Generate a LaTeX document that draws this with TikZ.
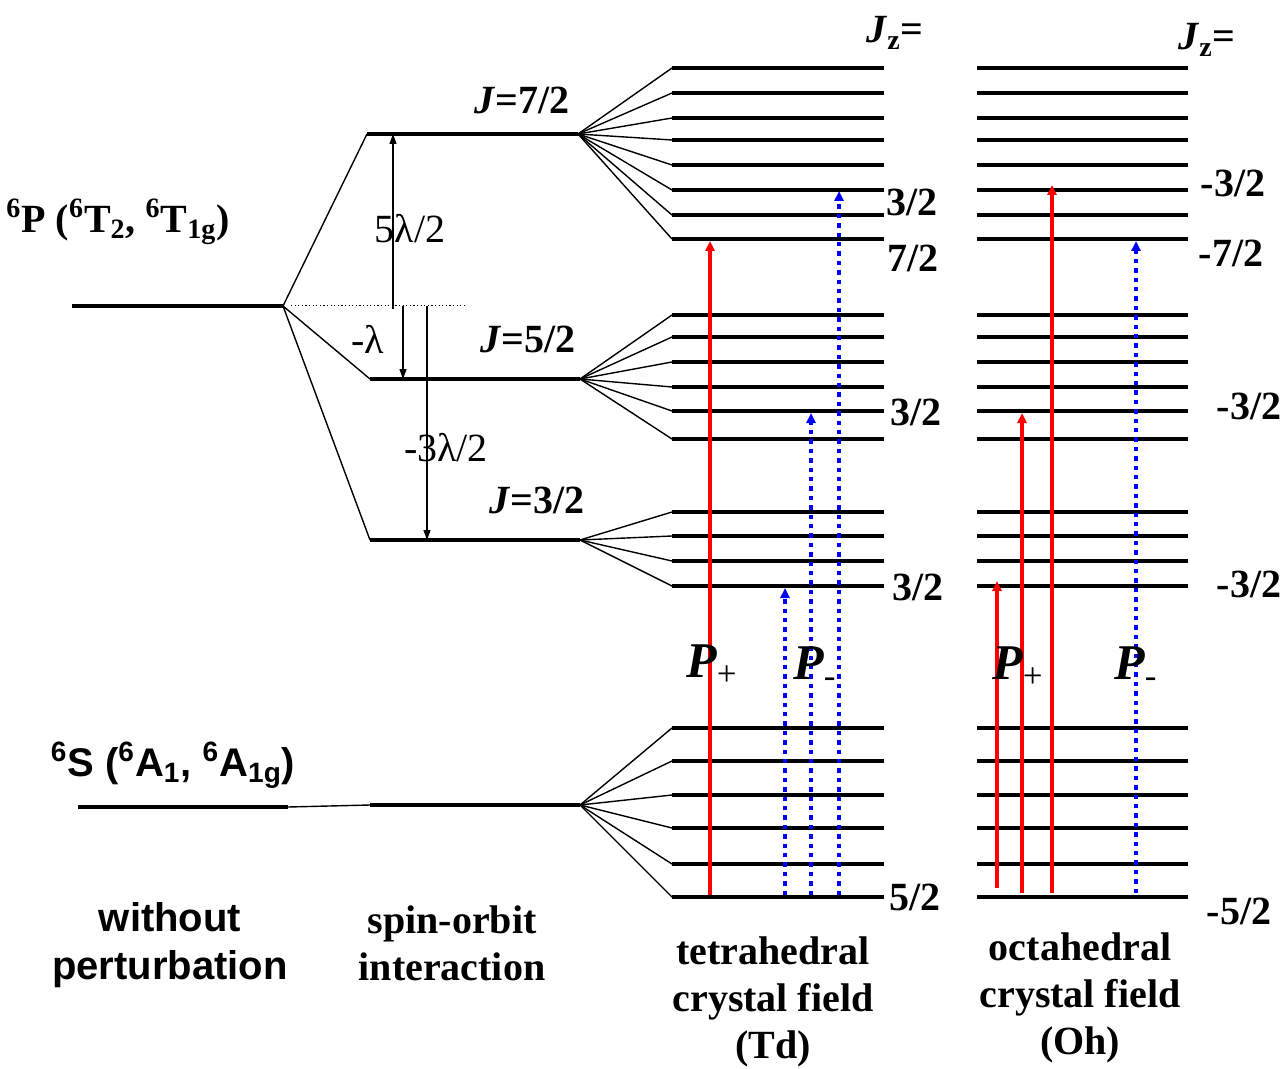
\documentclass[tikz,border=0pt]{standalone}
\usepackage{fontspec}
\setmainfont{Liberation Serif}
\setsansfont{Liberation Sans}
\usetikzlibrary{arrows.meta}
\begin{document}
\begin{tikzpicture}[x=0.5pt,y=-0.5pt,
  level/.style={line width=2.2pt},
  fan/.style={line width=0.7pt},
  gap/.style={line width=0.6pt,-{Triangle[width=3.5pt,length=5pt]}},
  pplus/.style={red,line width=2pt,-{Triangle[width=4.5pt,length=5pt]}},
  pminus/.style={blue,line width=2.2pt,dash pattern=on 2.2pt off 2.5pt,-{Triangle[width=4.5pt,length=5pt]}},
  lab/.style={font=\fontsize{20pt}{24pt}\selectfont\bfseries},
  thinlab/.style={font=\fontsize{20pt}{24pt}\selectfont},
  captext/.style={font=\fontsize{20pt}{23.5pt}\selectfont\bfseries,align=center},
  capsf/.style={font=\fontsize{20pt}{24pt}\selectfont\sffamily\bfseries,align=center},
  pol/.style={font=\fontsize{25pt}{28pt}\selectfont\bfseries\itshape}]
\useasboundingbox (0,0) rectangle (1283,1069);
% without perturbation
\draw[level] (72,306) coordinate (P0w) -- (283,306) coordinate (P0e);
\draw[level] (78,807) coordinate (S0w) -- (288,807) coordinate (S0e);
\node[lab] (Plab) at (118,222) {\textsuperscript{6}P (\textsuperscript{6}T\textsubscript{2}, \textsuperscript{6}T\textsubscript{1g})};
\node[capsf] (Slab) at (173,765) {\textsuperscript{6}S (\textsuperscript{6}A\textsubscript{1}, \textsuperscript{6}A\textsubscript{1g})};
% spin-orbit
\draw[level] (367,134) coordinate (J7w) -- (578,134) coordinate (J7e);
\draw[level] (370,379) coordinate (J5w) -- (580,379) coordinate (J5e);
\draw[level] (370,540) coordinate (J3w) -- (580,540) coordinate (J3e);
\draw[level] (370,805) coordinate (S1w) -- (580,805) coordinate (S1e);
\draw[fan] (J7w) -- (P0e) -- (J5w) (P0e) -- (J3w);
\draw[fan] (S0e) -- (S1w);
\draw[line width=0.5pt,dash pattern=on 0.6pt off 1.2pt] (291,306) coordinate (ref0) -- (466,306) coordinate (ref1);
\draw[gap] (393,309) -- (393,134);
\draw[gap] (403,306) -- (403,379);
\draw[gap] (427,306) -- (427,540);
\node[thinlab] (g5) at (410,229) {5λ/2};
\node[thinlab] (g1) at (368,339) {-λ};
\node[thinlab] (g3) at (446,448) {-3λ/2};
\node[lab] (l7) at (522,100) {\textit{J}=7/2};
\node[lab] (l5) at (528,339) {\textit{J}=5/2};
\node[lab] (l3) at (537,500) {\textit{J}=3/2};
% crystal field levels
\foreach \src/\ys in {J7e/{68,93,118,140,165,190,215,239},
    J5e/{315,337,362,387,411,439},
    J3e/{512,536,561,586},
    S1e/{728,761,795,828,864,897}}{
  \foreach \y in \ys {
    \draw[level] (672,\y) coordinate (td) -- (884,\y);
    \draw[level] (977,\y) -- (1188,\y);
    \draw[fan] (\src) -- (td);
  }
}
% Jz values
\node[lab] (tz) at (895,33) {\textit{J}\textsubscript{z}=};
\node[lab] (oz) at (1207,40) {\textit{J}\textsubscript{z}=};
\node[lab] at (912,202) {3/2};
\node[lab] at (913,258) {7/2};
\node[lab] at (916,412) {3/2};
\node[lab] at (918,587) {3/2};
\node[lab] at (915,897) {5/2};
\node[lab] at (1233,183) {-3/2};
\node[lab] at (1231,253) {-7/2};
\node[lab] at (1249,406) {-3/2};
\node[lab] at (1249,584) {-3/2};
\node[lab] at (1239,911) {-5/2};
% transitions
\draw[pplus] (710,895) -- (710,241);
\draw[pminus] (785,895) -- (785,588);
\draw[pminus] (811,895) -- (811,413);
\draw[pminus] (839,895) -- (839,191);
\draw[pplus] (997,888) -- (997,581);
\draw[pplus] (1022,893) -- (1022,413);
\draw[pplus] (1052,893) -- (1052,185);
\draw[pminus] (1136,893) -- (1136,241);
\node[pol] (tp) at (712,665) {P\textsubscript{\mdseries\upshape +}};
\node[pol] (tm) at (815,667) {P\textsubscript{\mdseries\upshape -}};
\node[pol] (op) at (1018,667) {P\textsubscript{\mdseries\upshape +}};
\node[pol] (om) at (1136,667) {P\textsubscript{\mdseries\upshape -}};
% captions
\node[capsf] (c1) at (170,945) {without\\perturbation};
\node[captext] (c2) at (452,943) {spin-orbit\\interaction};
\node[captext] (c3) at (773,1002) {tetrahedral\\crystal field\\(Td)};
\node[captext] (c4) at (1080,998) {octahedral\\crystal field\\(Oh)};
\end{tikzpicture}
\end{document}
